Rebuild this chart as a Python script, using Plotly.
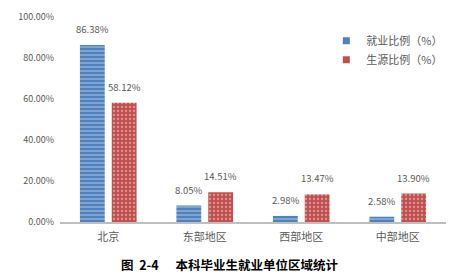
import plotly.graph_objects as go

categories = ["北京", "东部地区", "西部地区", "中部地区"]
employ = [86.38, 8.05, 2.98, 2.58]
source = [58.12, 14.51, 13.47, 13.90]
series_names = ["就业比例（%）", "生源比例（%）"]
series_colors = ["#4f81bd", "#c0504d"]
title_text = "图  2-4      本科毕业生就业单位区域统计"

font_family = "Microsoft YaHei, Noto Sans CJK SC, sans-serif"

fig = go.Figure()
fig.add_trace(go.Bar(
    x=categories, y=[v / 100 for v in employ], name=series_names[0], showlegend=False,
    marker=dict(color=series_colors[0], line=dict(width=0),
                pattern=dict(shape="-", fgcolor="#dce6f2", bgcolor=series_colors[0], size=4, solidity=0.35)),
))
fig.add_trace(go.Bar(
    x=categories, y=[v / 100 for v in source], name=series_names[1], showlegend=False,
    marker=dict(color=series_colors[1], line=dict(width=0),
                pattern=dict(shape=".", fgcolor="#f2dcdb", bgcolor=series_colors[1], size=4, solidity=0.25)),
))
# legend entries with small square swatches
for name, col in zip(series_names, series_colors):
    fig.add_trace(go.Scatter(
        x=[categories[0]], y=[None], mode="markers", name=name,
        marker=dict(symbol="square", size=7, color=col), showlegend=True, hoverinfo="skip",
    ))

annotations = []
for vals, xs in ((employ, -16), (source, 16)):
    for c, v in zip(categories, vals):
        annotations.append(dict(
            x=c, y=v / 100, xref="x", yref="y", text=f"{v:.2f}%", showarrow=False,
            xanchor="center", yanchor="bottom", xshift=xs, yshift=7,
            font=dict(size=9.5, color="#595959", family=font_family)))
annotations.append(dict(text="<b>" + title_text + "</b>", xref="paper", yref="paper",
                        x=0.44, y=-0.205, xanchor="center", yanchor="middle",
                        showarrow=False, font=dict(size=12.5, color="black", family=font_family)))

fig.update_layout(
    width=458, height=275,
    margin=dict(l=60, r=10, t=15, b=53),
    paper_bgcolor="white", plot_bgcolor="white",
    barmode="group", bargap=0.34, bargroupgap=0.22,
    font=dict(family=font_family, size=10, color="#595959"),
    showlegend=True,
    legend=dict(x=0.69, y=0.955, xanchor="left", yanchor="top",
                font=dict(size=11, color="#595959"), bgcolor="rgba(0,0,0,0)",
                itemwidth=30, tracegroupgap=0),
    xaxis=dict(showline=True, linecolor="#bfbfbf", linewidth=1.5, ticks="",
               ticklabelstandoff=4,
               tickfont=dict(size=11, color="#595959"), showgrid=False),
    yaxis=dict(range=[0, 1], dtick=0.2, tickformat=".2%", showgrid=False,
               zeroline=False, showline=False, ticks="", ticklen=0, ticklabelstandoff=5,
               tickfont=dict(size=9, color="#595959")),
    annotations=annotations,
)

fig.write_html("out.html")
